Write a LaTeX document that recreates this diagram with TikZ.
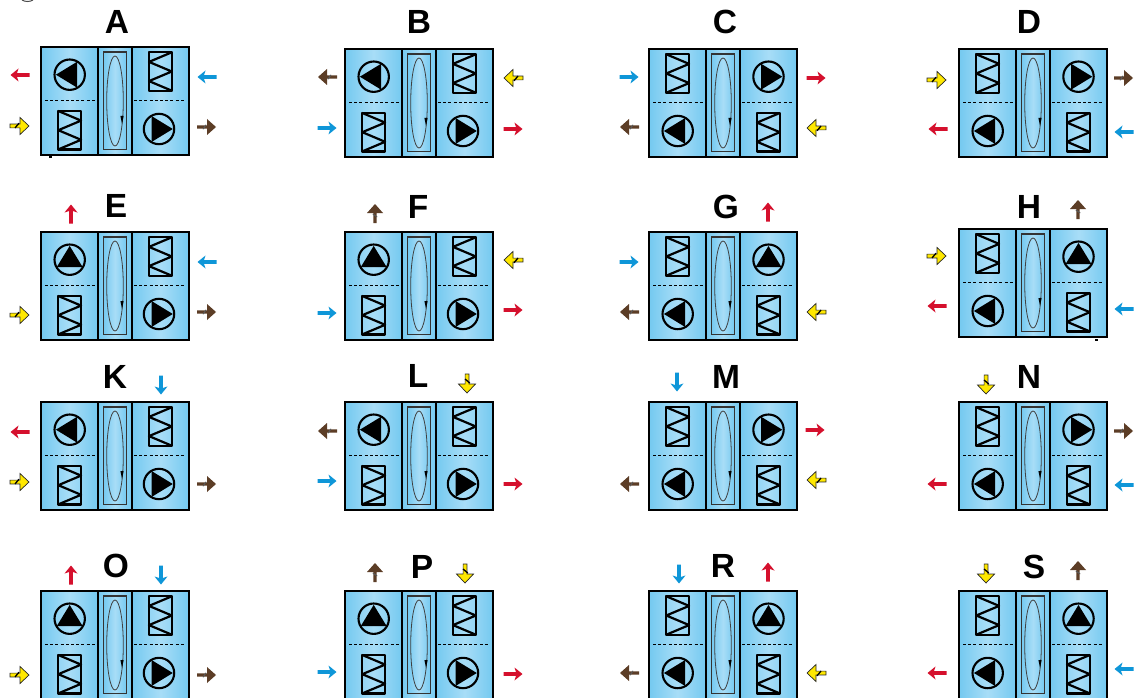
\documentclass[tikz,border=0pt]{standalone}
\usepackage{fontspec}
\setmainfont{Liberation Sans}
\definecolor{edgeblue}{HTML}{74C9F0}
\definecolor{midblue}{HTML}{A8DDF7}
\definecolor{airred}{HTML}{D5102D}
\definecolor{airblue}{HTML}{0E96D8}
\definecolor{airyellow}{HTML}{FFE800}
\definecolor{airbrown}{HTML}{5C3D26}
\tikzset{
  x=1pt,y=-1pt,
  chamber/.style={left color=edgeblue,right color=edgeblue,middle color=midblue,draw=black,line width=2.8pt},
  wall/.style={draw=black,line width=2.8pt},
  wheelbox/.style={draw=black!80,line width=1.2pt,left color=edgeblue,right color=edgeblue,middle color=midblue},
  wheelloop/.style={draw=black!75,line width=.8pt},
  splitline/.style={draw=black,line width=1.2pt,dash pattern=on 3pt off 2.2pt},
  coilbox/.style={draw=black,line width=2.2pt,line join=round},
  fanring/.style={draw=black,line width=2.1pt},
  letter/.style={font=\fontsize{33.5}{34}\selectfont\bfseries,inner sep=0pt,text=black}
}
% fan: centre, angle (0 right, 90 down, 180 left, 270 up)
\newcommand\FanAt[3]{%
  \begin{scope}[shift={(#1,#2)},rotate=-#3]
    \draw[fanring] (0,0) circle[radius=15.2];
    \fill[black] (13.8,0) -- (-7.5,-13) -- (-7.5,13) -- cycle;
  \end{scope}}
% coil: top-left corner, mirror flag
\newcommand\CoilAt[3]{%
  \begin{scope}[shift={(#1,#2)}]
    \draw[coilbox] (0,0) rectangle (22.8,38.4);
    \ifnum#3=0
      \draw[coilbox] (0,0) -- (22.8,9.6) -- (0,19.2) -- (22.8,28.8) -- (0,38.4);
    \else
      \draw[coilbox] (22.8,0) -- (0,9.6) -- (22.8,19.2) -- (0,28.8) -- (22.8,38.4);
    \fi
  \end{scope}}
\newcommand\Casing{%
  \path[chamber] (0,0) rectangle (57,108);
  \path[chamber] (91,0) rectangle (148,108);
  \path[chamber] (57,0) rectangle (91,108);
  \path[wheelbox] (62.3,5) rectangle (85.7,102.3);
  \draw[wheelloop] (74,54) ellipse[x radius=8.3,y radius=45];
  \fill[black] (81,77) -- (79.4,69) -- (82.6,69) -- cycle;
  \draw[splitline] (4,53.7) -- (54,53.7);
  \draw[splitline] (93,53.7) -- (143,53.7);
  \draw[wall] (0,0) rectangle (148,108);}
% unit type one: fan top left, fan bottom right
\newcommand\UnitOne[3]{%
  \begin{scope}[shift={(#1,#2)}]
    \Casing
    \FanAt{28.7}{27.7}{#3}
    \CoilAt{17.3}{64}{0}
    \CoilAt{108}{5.3}{1}
    \FanAt{118}{82}{0}
  \end{scope}}
% unit type two: fan bottom left, fan top right
\newcommand\UnitTwo[3]{%
  \begin{scope}[shift={(#1,#2)}]
    \Casing
    \CoilAt{17.3}{5.3}{0}
    \FanAt{28.7}{82}{180}
    \FanAt{119.5}{27.7}{#3}
    \CoilAt{108}{64}{1}
  \end{scope}}
\newcommand\Red[3]{\begin{scope}[shift={(#1,#2)},rotate=-#3]
  \fill[airred] (9.5,0) -- (1.5,-6.5) -- (3,-1.8) -- (-9.5,-1.8) -- (-9.5,1.8) -- (3,1.8) -- (1.5,6.5) -- cycle;
  \end{scope}}
\newcommand\Blue[3]{\begin{scope}[shift={(#1,#2)},rotate=-#3]
  \fill[airblue] (9.5,0) -- (1.5,-6.5) -- (3,-1.8) -- (-9.5,-1.8) -- (-9.5,1.8) -- (3,1.8) -- (1.5,6.5) -- cycle;
  \end{scope}}
\newcommand\Yellow[3]{\begin{scope}[shift={(#1,#2)},rotate=-#3]
  \draw[black!85,line width=.7pt,fill=airyellow,line join=miter] (9,0) -- (0,-8.5) -- (0,-1.9) -- (-10,-1.9) -- (-10,1.9) -- (0,1.9) -- (0,8.5) -- cycle;
  \draw[black,line width=1.3pt] (-5,2) -- (-1,-2.8);
  \end{scope}}
\newcommand\Brown[3]{\begin{scope}[shift={(#1,#2)},rotate=-#3]
  \fill[airbrown] (9,0) -- (0,-8) -- (0,-1.6) -- (-10,-1.6) -- (-10,1.6) -- (0,1.6) -- (0,8) -- cycle;
  \draw[black!65,line width=1pt] (-4,2.2) -- (-1,-2.2);
  \end{scope}}
\begin{document}
\begin{tikzpicture}
\useasboundingbox[fill=white] (0,0) rectangle (1137,698);
% row 1
\UnitOne{41}{47}{180}
\UnitOne{345}{49}{180}
\UnitTwo{649}{49}{0}
\UnitTwo{959}{49}{0}
% row 2
\UnitOne{41}{232}{270}
\UnitOne{345}{232}{270}
\UnitTwo{649}{232}{270}
\UnitTwo{959}{229}{270}
% row 3
\UnitOne{41}{402}{180}
\UnitOne{345}{402}{180}
\UnitTwo{649}{402}{0}
\UnitTwo{959}{402}{0}
% row 4
\UnitOne{41}{591}{270}
\UnitOne{345}{591}{270}
\UnitTwo{649}{591}{270}
\UnitTwo{959}{591}{270}
% labels
\foreach \n/\x/\y in {A/117/22,B/419/22,C/725/22,D/1029/22,E/116/206,F/418/207,G/726/207,H/1029/207,K/115/377,L/418/376,M/726/377,N/1029/377,O/116/566,P/422/567,R/723/566,S/1034/567}
  \node[letter] (lab\n) at (\x,\y) {\n};
% air arrows
\Red{20}{75}{180}\Yellow{20}{126}{0}\Blue{207}{77}{180}\Brown{207}{127}{0}
\Brown{327}{77}{180}\Yellow{513}{78}{180}\Blue{327}{128}{0}\Red{513}{129}{0}
\Blue{629}{77}{0}\Red{816}{78}{0}\Brown{629}{127}{180}\Yellow{816}{128}{180}
\Yellow{937}{80}{0}\Brown{1124}{78}{0}\Red{938}{129}{180}\Blue{1124}{132}{180}
\Red{71}{214}{270}\Blue{207}{262}{180}\Yellow{20}{315}{0}\Brown{207}{312}{0}
\Brown{375}{213}{270}\Yellow{513}{260}{180}\Blue{327}{313}{0}\Red{513}{310}{0}
\Red{768}{212}{270}\Blue{629}{262}{0}\Brown{629}{312}{180}\Yellow{816}{312}{180}
\Brown{1078}{209}{270}\Yellow{937}{256}{0}\Red{937}{306}{180}\Blue{1124}{309}{180}
\Blue{161}{385}{90}\Red{20}{432}{180}\Yellow{20}{482}{0}\Brown{207}{484}{0}
\Yellow{467}{384}{90}\Brown{327}{431}{180}\Blue{327}{481}{0}\Red{513}{484}{0}
\Blue{677}{382}{90}\Red{815}{430}{0}\Brown{629}{484}{180}\Yellow{816}{480}{180}
\Yellow{986}{385}{90}\Brown{1124}{431}{0}\Red{937}{484}{180}\Blue{1124}{485}{180}
\Red{71}{575}{270}\Blue{161}{575}{90}\Yellow{20}{675}{0}\Brown{207}{675}{0}
\Brown{375}{572}{270}\Yellow{465}{574}{90}\Blue{327}{672}{0}\Red{513}{674}{0}
\Blue{679}{574}{90}\Red{768}{572}{270}\Brown{629}{673}{180}\Yellow{816}{673}{180}
\Yellow{986}{574}{90}\Brown{1078}{570}{270}\Red{937}{673}{180}\Blue{1124}{669}{180}
% stray marks at the edges of the scan
\draw[black!70,line width=1pt] (22,0) .. controls (25,2) and (30,2) .. (33,0);
\fill[black] (49,156) rectangle (51.5,158);
\fill[black] (1095,338.5) rectangle (1097.5,340.5);
\end{tikzpicture}
\end{document}
